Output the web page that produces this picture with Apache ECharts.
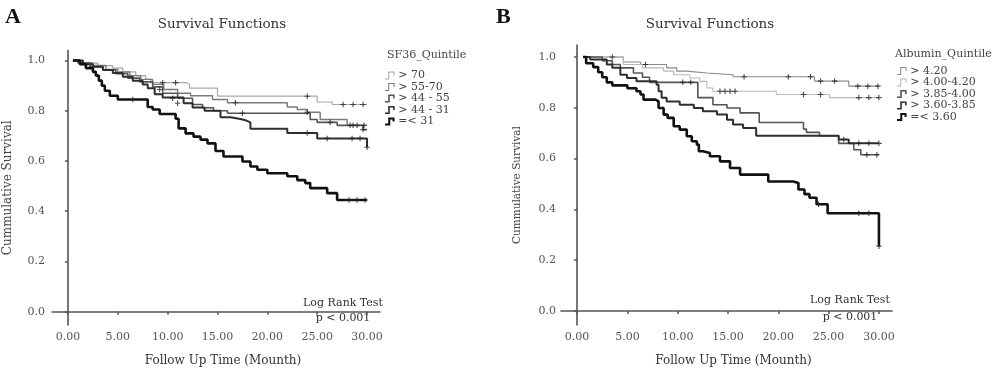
<!DOCTYPE html>
<html>
<head>
<meta charset="utf-8">
<script src="https://cdn.jsdelivr.net/npm/echarts@6/dist/echarts.min.js"></script>
<style>html,body{margin:0;padding:0;background:#fff}#c{width:1000px;height:372px}</style>
</head>
<body>
<div id="c"></div>
<script>
// ---------- data ----------
const xTicks = [0, 5, 10, 15, 20, 25, 30];
const yTicks = [0, 0.2, 0.4, 0.6, 0.8, 1.0];

const namesA = ['> 70', '> 55-70', '> 44 - 55', '> 44 - 31', '=< 31'];
const namesB = ['> 4.20', '> 4.00-4.20', '> 3.85-4.00', '> 3.60-3.85', '=< 3.60'];

// Panel A (SF36 quintiles): [time, survival] step points
const a_gt70 = [[0.5,1],[1.5,0.99],[3,0.98],[4.5,0.97],[5.5,0.955],[6.8,0.94],[7.8,0.925],[8.3,0.912],[11.9,0.905],[12.2,0.89],[15,0.858],[25,0.835],[26.5,0.825],[30,0.825]];
const a_55_70 = [[0.5,1],[1.2,0.99],[2.5,0.98],[3.8,0.965],[5,0.955],[6.2,0.94],[7.3,0.925],[8.5,0.905],[9.6,0.885],[11,0.87],[12.3,0.86],[14.5,0.845],[16,0.832],[22,0.815],[23,0.805],[24,0.794],[25.3,0.765],[28,0.742],[30,0.742]];
const a_44_55 = [[0.5,1],[1,0.99],[2.2,0.975],[3.5,0.962],[4.8,0.948],[6,0.93],[7.2,0.915],[8.5,0.895],[9.5,0.87],[11,0.85],[12.5,0.825],[13.5,0.812],[14.6,0.8],[16,0.79],[24.3,0.765],[25,0.754],[27,0.742],[29.6,0.725],[30,0.725]];
const a_44_31 = [[0.5,1],[1.5,0.985],[2.5,0.975],[3.5,0.962],[4.5,0.95],[5.5,0.935],[6.5,0.92],[7.5,0.905],[8,0.89],[8.7,0.866],[9.5,0.853],[11.6,0.83],[12.5,0.813],[13.7,0.8],[15.3,0.774],[16.3,0.767],[17.3,0.761],[17.9,0.754],[18.3,0.728],[22,0.712],[25,0.69],[30,0.655]];
const a_le31 = [[0.5,1],[1.2,0.985],[1.8,0.97],[2.5,0.955],[2.8,0.94],[3.1,0.92],[3.4,0.9],[3.7,0.88],[4.2,0.86],[5,0.845],[8,0.815],[8.5,0.805],[9.2,0.787],[10.8,0.768],[11.1,0.73],[11.8,0.71],[12.6,0.697],[13.3,0.685],[14,0.67],[14.8,0.64],[15.6,0.618],[17.5,0.598],[18.3,0.578],[19,0.565],[20,0.551],[22,0.539],[23,0.524],[23.8,0.512],[24.3,0.492],[26,0.472],[27,0.445],[30,0.445]];

const ca_gt70 = [[9.5,0.912],[10.8,0.912],[24,0.858],[27.6,0.825],[28.6,0.825],[29.6,0.825]];
const ca_55_70 = [[9.2,0.885],[16.8,0.832],[24,0.794],[28.3,0.742],[29,0.742],[29.7,0.742]];
const ca_44_55 = [[10.5,0.85],[17.5,0.79],[26.3,0.754],[28.6,0.742],[29.6,0.725]];
const ca_44_31 = [[11,0.83],[24,0.712],[26,0.69],[28.5,0.69],[29.3,0.69],[30,0.655]];
const ca_le31 = [[6.5,0.845],[28.2,0.445],[29,0.445],[29.8,0.445]];

// Panel B (Albumin quintiles)
const b_gt420 = [[0.6,1],[4.3,1],[4.6,0.98],[6.3,0.97],[8.9,0.957],[9.9,0.944],[10.9,0.937],[12.9,0.93],[15.5,0.922],[23.6,0.905],[27,0.885],[30,0.885]];
const b_400_420 = [[0.6,1],[3,1],[4.6,0.97],[6.5,0.957],[8.6,0.944],[9.6,0.93],[11.2,0.917],[12.2,0.904],[12.9,0.878],[13.5,0.865],[19.8,0.852],[25.1,0.84],[30,0.84]];
const b_385_400 = [[0.6,1],[2.5,0.985],[3.5,0.97],[4.3,0.957],[5.6,0.937],[6.5,0.92],[7.2,0.9],[12,0.84],[13.5,0.812],[14.9,0.799],[16.2,0.78],[18.1,0.742],[22.5,0.716],[22.8,0.703],[24.1,0.69],[26,0.66],[27.5,0.635],[28.2,0.615],[30,0.615]];
const b_360_385 = [[0.6,1],[1.3,0.99],[2.95,0.97],[3.5,0.957],[4.3,0.93],[4.96,0.917],[5.9,0.904],[7.9,0.891],[8.1,0.865],[8.4,0.839],[8.9,0.825],[10.2,0.812],[11.6,0.799],[12.5,0.786],[13.9,0.773],[14.9,0.753],[15.5,0.734],[16.5,0.72],[17.8,0.69],[26,0.675],[27,0.66],[30,0.66]];
const b_le360 = [[0.6,1],[0.9,0.975],[1.6,0.96],[2.1,0.94],[2.5,0.92],[2.95,0.9],[3.5,0.888],[5,0.877],[5.9,0.865],[6.3,0.852],[6.6,0.832],[7.8,0.825],[8.1,0.799],[8.6,0.773],[9,0.76],[9.6,0.727],[10.2,0.714],[10.9,0.688],[11.4,0.668],[11.9,0.655],[12.1,0.629],[12.5,0.622],[13.2,0.609],[14.2,0.589],[15.2,0.563],[16.2,0.537],[19,0.51],[21.5,0.504],[22,0.478],[22.6,0.46],[23.1,0.446],[23.8,0.42],[24.9,0.385],[30,0.255]];

const cb_gt420 = [[3.5,1],[6.8,0.97],[16.6,0.922],[21,0.922],[23.2,0.922],[24.2,0.905],[25.6,0.905],[27.9,0.885],[28.9,0.885],[29.9,0.885]];
const cb_400_420 = [[14.2,0.865],[14.7,0.865],[15.2,0.865],[15.7,0.865],[22.5,0.852],[24.2,0.852],[28,0.84],[29,0.84],[30,0.84]];
const cb_385_400 = [[10.5,0.9],[11.3,0.9],[28.8,0.615],[29.8,0.615]];
const cb_360_385 = [[26.5,0.675],[28,0.66],[29,0.66],[30,0.66]];
const cb_le360 = [[24,0.42],[28,0.385],[29,0.385],[30,0.255]];

// ---------- styling ----------
const FONT = 'DejaVu Serif';
const colorsA = ['#a8a8a8', '#7a7a7a', '#555555', '#2e2e2e', '#111111'];
const widthsA = [1.2, 1.4, 1.6, 2, 2.6];
const colorsB = ['#8a8a8a', '#b8b8b8', '#555555', '#2e2e2e', '#111111'];
const widthsB = [1.1, 1.1, 1.6, 2, 2.6];

function stepIcon(w) {
  return `path://M0,${10 - w} H4 V0 H12 V5 H${12 - w} V${w} H${4 + w} V10 H0 Z`;
}
const CROSS = 'path://M4,0 H6 V4 H10 V6 H6 V10 H4 V6 H0 V4 H4 Z';

function xAxis(gi) {
  return {
    type: 'value', gridIndex: gi, min: -1.6, max: 31.3,
    name: 'Follow Up Time (Mounth)', nameLocation: 'middle', nameGap: 30,
    nameTextStyle: { fontFamily: FONT, fontSize: 12, color: '#333', padding: [0, 0, 0, 14] },
    axisLine: { lineStyle: { color: '#555', width: 1.6 } },
    axisTick: { show: true, inside: false, length: 3, customValues: xTicks, lineStyle: { color: '#555', width: 1.5 } },
    axisLabel: { customValues: xTicks, formatter: v => v.toFixed(2), fontFamily: FONT, fontSize: 11, color: '#555', margin: 7 },
    splitLine: { show: false }
  };
}
function yAxis(gi, min, max, nameSize, margin) {
  return {
    type: 'value', gridIndex: gi, min: min, max: max,
    name: 'Cummulative Survival', nameLocation: 'middle', nameGap: 38, nameRotate: 90,
    nameTextStyle: { fontFamily: FONT, fontSize: nameSize, color: '#444' },
    axisLine: { show: true, lineStyle: { color: '#555', width: 1.6 } },
    axisTick: { show: true, inside: false, length: 3, customValues: yTicks, lineStyle: { color: '#555', width: 1.5 } },
    axisLabel: { customValues: yTicks, formatter: v => v.toFixed(1), fontFamily: FONT, fontSize: 11, color: '#555', margin: margin },
    splitLine: { show: false }
  };
}

const curvesA = [a_gt70, a_55_70, a_44_55, a_44_31, a_le31];
const censA = [ca_gt70, ca_55_70, ca_44_55, ca_44_31, ca_le31];
const curvesB = [b_gt420, b_400_420, b_385_400, b_360_385, b_le360];
const censB = [cb_gt420, cb_400_420, cb_385_400, cb_360_385, cb_le360];

const series = [];
function addPanel(gi, names, curves, cens, colors, widths, tag) {
  names.forEach((n, i) => {
    series.push({
      name: n, type: 'line', step: 'end', xAxisIndex: gi, yAxisIndex: gi,
      data: curves[i], showSymbol: false, symbol: 'none',
      lineStyle: { color: colors[i], width: widths[i] }, itemStyle: { color: colors[i] },
      z: 2 + i, silent: true
    });
    series.push({
      name: tag + '_c' + i, type: 'scatter', xAxisIndex: gi, yAxisIndex: gi,
      data: cens[i], symbol: CROSS, symbolSize: 5.5,
      itemStyle: { color: '#222' }, z: 10, silent: true
    });
  });
}
addPanel(0, namesA, curvesA, censA, colorsA, widthsA, 'A');
addPanel(1, namesB, curvesB, censB, colorsB, widthsB, 'B');

function legend(names, colors, left, top) {
  return {
    orient: 'vertical', left: left, top: top, itemWidth: 11, itemHeight: 8, itemGap: 0.5,
    selectedMode: false,
    textStyle: { fontFamily: FONT, fontSize: 11, color: '#444', lineHeight: 11, padding: [0, 0, 0, -2] },
    data: names.map((n, i) => ({ name: n, icon: stepIcon(i < 2 ? 1.3 : (i < 4 ? 2 : 2.6)), itemStyle: { color: colors[i] } }))
  };
}

function txt(x, y, text, size, opts) {
  return Object.assign({
    type: 'text', x: x, y: y, silent: true,
    style: { text: text, fontFamily: FONT, fontSize: size, fill: '#333', align: 'center', verticalAlign: 'middle' }
  }, opts || {});
}

const option = {
  animation: false,
  backgroundColor: '#fff',
  grid: [
    { left: 52, top: 50.5, width: 328, height: 277.5 },
    { left: 561, top: 45, width: 331, height: 282 }
  ],
  xAxis: [xAxis(0), xAxis(1)],
  yAxis: [yAxis(0, -0.053, 1.04, 12, 7), yAxis(1, -0.055, 1.047, 10.5, 5)],
  legend: [
    legend(namesA, colorsA, 380, 65),
    legend(namesB, colorsB, 892, 60.5)
  ],
  graphic: [
    { type: 'text', x: 5, y: 6, style: { text: 'A', fontFamily: 'Liberation Serif', fontWeight: 'bold', fontSize: 22, fill: '#111' } },
    { type: 'text', x: 496, y: 6, style: { text: 'B', fontFamily: 'Liberation Serif', fontWeight: 'bold', fontSize: 22, fill: '#111' } },
    txt(222, 24, 'Survival Functions', 13.5),
    txt(710, 24, 'Survival Functions', 13.5),
    { type: 'text', x: 387, y: 55, style: { text: 'SF36_Quintile', fontFamily: FONT, fontSize: 11, fill: '#444', verticalAlign: 'middle' } },
    { type: 'text', x: 895, y: 54, style: { text: 'Albumin_Quintile', fontFamily: FONT, fontSize: 11, fill: '#444', verticalAlign: 'middle' } },
    txt(343, 303, 'Log Rank Test', 11),
    txt(343, 318, 'p < 0.001', 11),
    txt(850, 300, 'Log Rank Test', 11),
    txt(850, 317, 'p < 0.001', 11)
  ],
  series: series
};

const chart = echarts.init(document.getElementById('c'), null, { renderer: 'canvas' });
chart.setOption(option);
</script>
</body>
</html>
